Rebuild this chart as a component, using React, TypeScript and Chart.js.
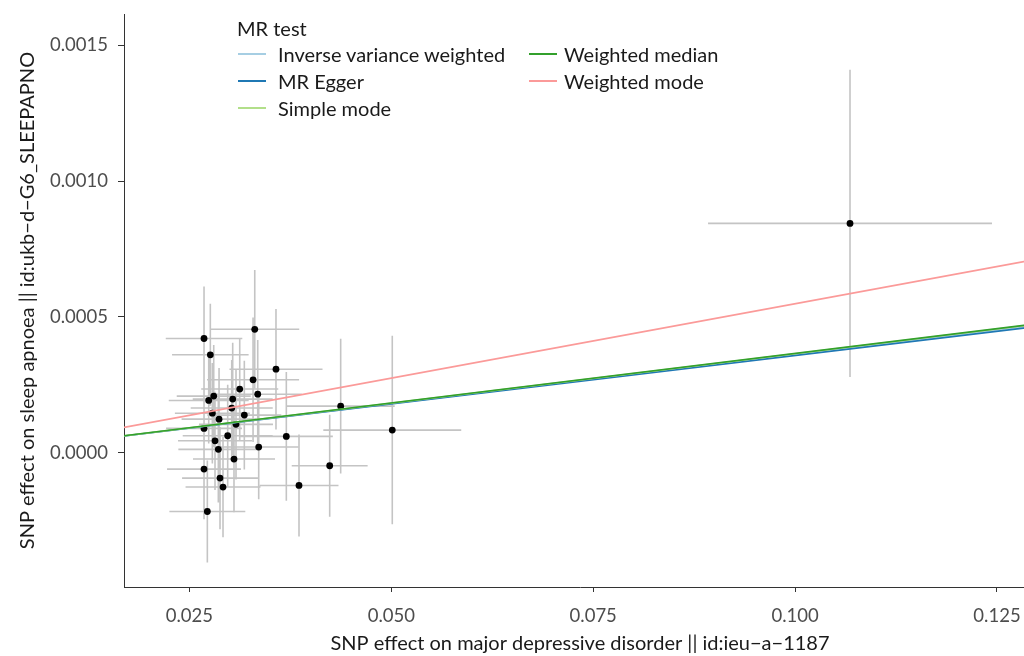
import React, { useEffect, useRef } from 'react';
import { Chart, registerables } from 'chart.js';

Chart.register(...registerables);

// SNP effects (exposure: major depressive disorder; outcome: sleep apnoea)
const snpX = [
  0.02681, 0.02759, 0.03309, 0.03572, 0.03288, 0.03123, 0.02801, 0.02739,
  0.03036, 0.03346, 0.03024, 0.0318, 0.02784, 0.02867, 0.03077, 0.02681,
  0.037, 0.02974, 0.02817, 0.02858, 0.03358, 0.03052, 0.02681, 0.02879,
  0.02916, 0.02722, 0.04373, 0.04237, 0.03857, 0.05012, 0.1068,
];
const snpY = [
  0.00042, 0.00036, 0.000454, 0.000307, 0.000268, 0.000234, 0.000208, 0.000192,
  0.000197, 0.000215, 0.000164, 0.000138, 0.000145, 0.000123, 0.000104, 0.0000891,
  0.0000596, 0.0000619, 0.0000434, 0.0000118, 0.0000203, -0.0000239, -0.0000608, -0.0000939,
  -0.000127, -0.000217, 0.000171, -0.0000486, -0.000121, 0.0000828, 0.000844,
];
const snpXse = [
  0.00474, 0.00474, 0.00551, 0.00576, 0.0057, 0.00477, 0.00458, 0.00495,
  0.00495, 0.00545, 0.00508, 0.00458, 0.00464, 0.00464, 0.00458, 0.0047,
  0.00576, 0.00557, 0.00458, 0.00495, 0.00495, 0.00508, 0.00458, 0.0047,
  0.00464, 0.0047, 0.00669, 0.0047, 0.00489, 0.00854, 0.01758,
];
const snpYse = [
  0.000192, 0.000188, 0.000218, 0.000222, 0.000229, 0.000188, 0.000188, 0.000159,
  0.000207, 0.0002, 0.000177, 0.0002, 0.000185, 0.000188, 0.000203, 0.000185,
  0.000237, 0.000188, 0.000181, 0.000196, 0.000192, 0.000196, 0.000185, 0.000188,
  0.000185, 0.000188, 0.000248, 0.000188, 0.000188, 0.000347, 0.000566,
];

// MR methods
const methodNames = ['Inverse variance weighted', 'MR Egger', 'Simple mode', 'Weighted median', 'Weighted mode'];
const methodSlopes = [0.00361, 0.00357, 0.00364, 0.00365, 0.00548];
const methodIntercepts = [0, 0.0000005, 0, 0, 0];
const methodColors = ['#a6cee3', '#1f78b4', '#b2df8a', '#33a02c', '#fb9a99'];

const xTicks = [0.025, 0.05, 0.075, 0.1, 0.125];
const yTicks = [0, 0.0005, 0.001, 0.0015];
const xLimits = [0.0169, 0.12983];
const yLimits = [-0.000495, 0.001615];

const FONT = 'Lato, "Noto Sans", sans-serif';

export default function App() {
  const canvasRef = useRef<HTMLCanvasElement | null>(null);

  useEffect(() => {
    document.body.style.margin = '0';
    const canvas = canvasRef.current;
    if (!canvas) return;

    const hBars: any[] = [];
    const vBars: any[] = [];
    snpX.forEach((x, i) => {
      const y = snpY[i];
      hBars.push({ x: x - snpXse[i], y }, { x: x + snpXse[i], y }, { x, y: null });
      vBars.push({ x, y: y - snpYse[i] }, { x, y: y + snpYse[i] }, { x, y: null });
    });

    const lineSets = methodNames.map((name, i) => ({
      label: name,
      data: xLimits.map((x) => ({ x, y: methodIntercepts[i] + methodSlopes[i] * x })),
      showLine: true,
      borderColor: methodColors[i],
      borderWidth: 1.6,
      pointRadius: 0,
      order: 5 - i,
    }));

    const chart = new Chart(canvas, {
      type: 'scatter',
      data: {
        datasets: [
          {
            label: 'hbars',
            data: hBars,
            showLine: true,
            spanGaps: false,
            borderColor: '#c4c4c4',
            borderWidth: 1.6,
            pointRadius: 0,
            order: 20,
          },
          {
            label: 'vbars',
            data: vBars,
            showLine: true,
            spanGaps: false,
            borderColor: '#c4c4c4',
            borderWidth: 1.6,
            pointRadius: 0,
            order: 19,
          },
          {
            label: 'snps',
            data: snpX.map((x, i) => ({ x, y: snpY[i] })),
            backgroundColor: '#000000',
            borderWidth: 0,
            pointRadius: 3.4,
            order: 10,
          },
          ...lineSets,
        ] as any,
      },
      options: {
        animation: false,
        responsive: false,
        events: [],
        layout: { autoPadding: false, padding: { top: 14, right: 0, left: 0, bottom: 0 } },
        plugins: { legend: { display: false }, tooltip: { enabled: false } },
        scales: {
          x: {
            type: 'linear',
            min: xLimits[0],
            max: xLimits[1],
            afterBuildTicks: (scale: any) => {
              scale.ticks = xTicks.map((v) => ({ value: v }));
            },
            afterFit: (scale: any) => {
              scale.height = 69;
              scale.paddingLeft = 0;
              scale.paddingRight = 0;
            },
            grid: { drawOnChartArea: false, drawTicks: true, tickLength: 5, color: '#333333', lineWidth: 1 },
            border: { display: true, color: '#333333', width: 1 },
            ticks: {
              callback: (v: any) => Number(v).toFixed(3),
              color: '#4d4d4d',
              font: { family: FONT, size: 18.5 },
              padding: 13,
              maxRotation: 0,
            },
            title: {
              display: true,
              text: 'SNP effect on major depressive disorder || id:ieu\u2212a\u22121187',
              color: '#1a1a1a',
              font: { family: FONT, size: 20 },
              padding: { top: 0, bottom: 0 },
            },
          },
          y: {
            type: 'linear',
            min: yLimits[0],
            max: yLimits[1],
            afterBuildTicks: (scale: any) => {
              scale.ticks = yTicks.map((v) => ({ value: v }));
            },
            afterFit: (scale: any) => {
              scale.width = 124;
              scale.paddingTop = 0;
              scale.paddingBottom = 0;
            },
            grid: { drawOnChartArea: false, drawTicks: true, tickLength: 6, color: '#333333', lineWidth: 1 },
            border: { display: true, color: '#333333', width: 1 },
            ticks: {
              callback: (v: any) => Number(v).toFixed(4),
              color: '#4d4d4d',
              font: { family: FONT, size: 18.5 },
              padding: 10,
            },
            title: {
              display: true,
              text: 'SNP effect on sleep apnoea || id:ukb\u2212d\u2212G6_SLEEPAPNO',
              color: '#1a1a1a',
              font: { family: FONT, size: 20 },
              padding: { top: 16, bottom: 0 },
            },
          },
        },
      },
    });

    return () => chart.destroy();
  }, []);

  return (
    <div style={{ position: 'relative', width: 1024, height: 656, overflow: 'hidden', fontFamily: FONT }}>
      <canvas ref={canvasRef} width={1036} height={656} style={{ display: 'block' }} />
      <div
        style={{
          position: 'absolute',
          left: 237,
          top: 16,
          color: '#1a1a1a',
          fontSize: 20,
          lineHeight: '24px',
          whiteSpace: 'nowrap',
        }}
      >
        MR test
      </div>
      {methodNames.map((name, i) => {
        const col = i < 3 ? 0 : 1;
        const row = i < 3 ? i : i - 3;
        const keyLeft = col === 0 ? 238 : 529;
        const textLeft = col === 0 ? 278 : 564;
        const cy = Math.round(54 + row * 26.8);
        return (
          <React.Fragment key={name}>
            <div
              style={{
                position: 'absolute',
                left: keyLeft,
                top: cy - 1,
                width: 28,
                height: 2,
                backgroundColor: methodColors[i],
              }}
            />
            <div
              style={{
                position: 'absolute',
                left: textLeft,
                top: cy - 12,
                fontSize: 20,
                lineHeight: '24px',
                color: '#1a1a1a',
                whiteSpace: 'nowrap',
              }}
            >
              {name}
            </div>
          </React.Fragment>
        );
      })}
    </div>
  );
}
